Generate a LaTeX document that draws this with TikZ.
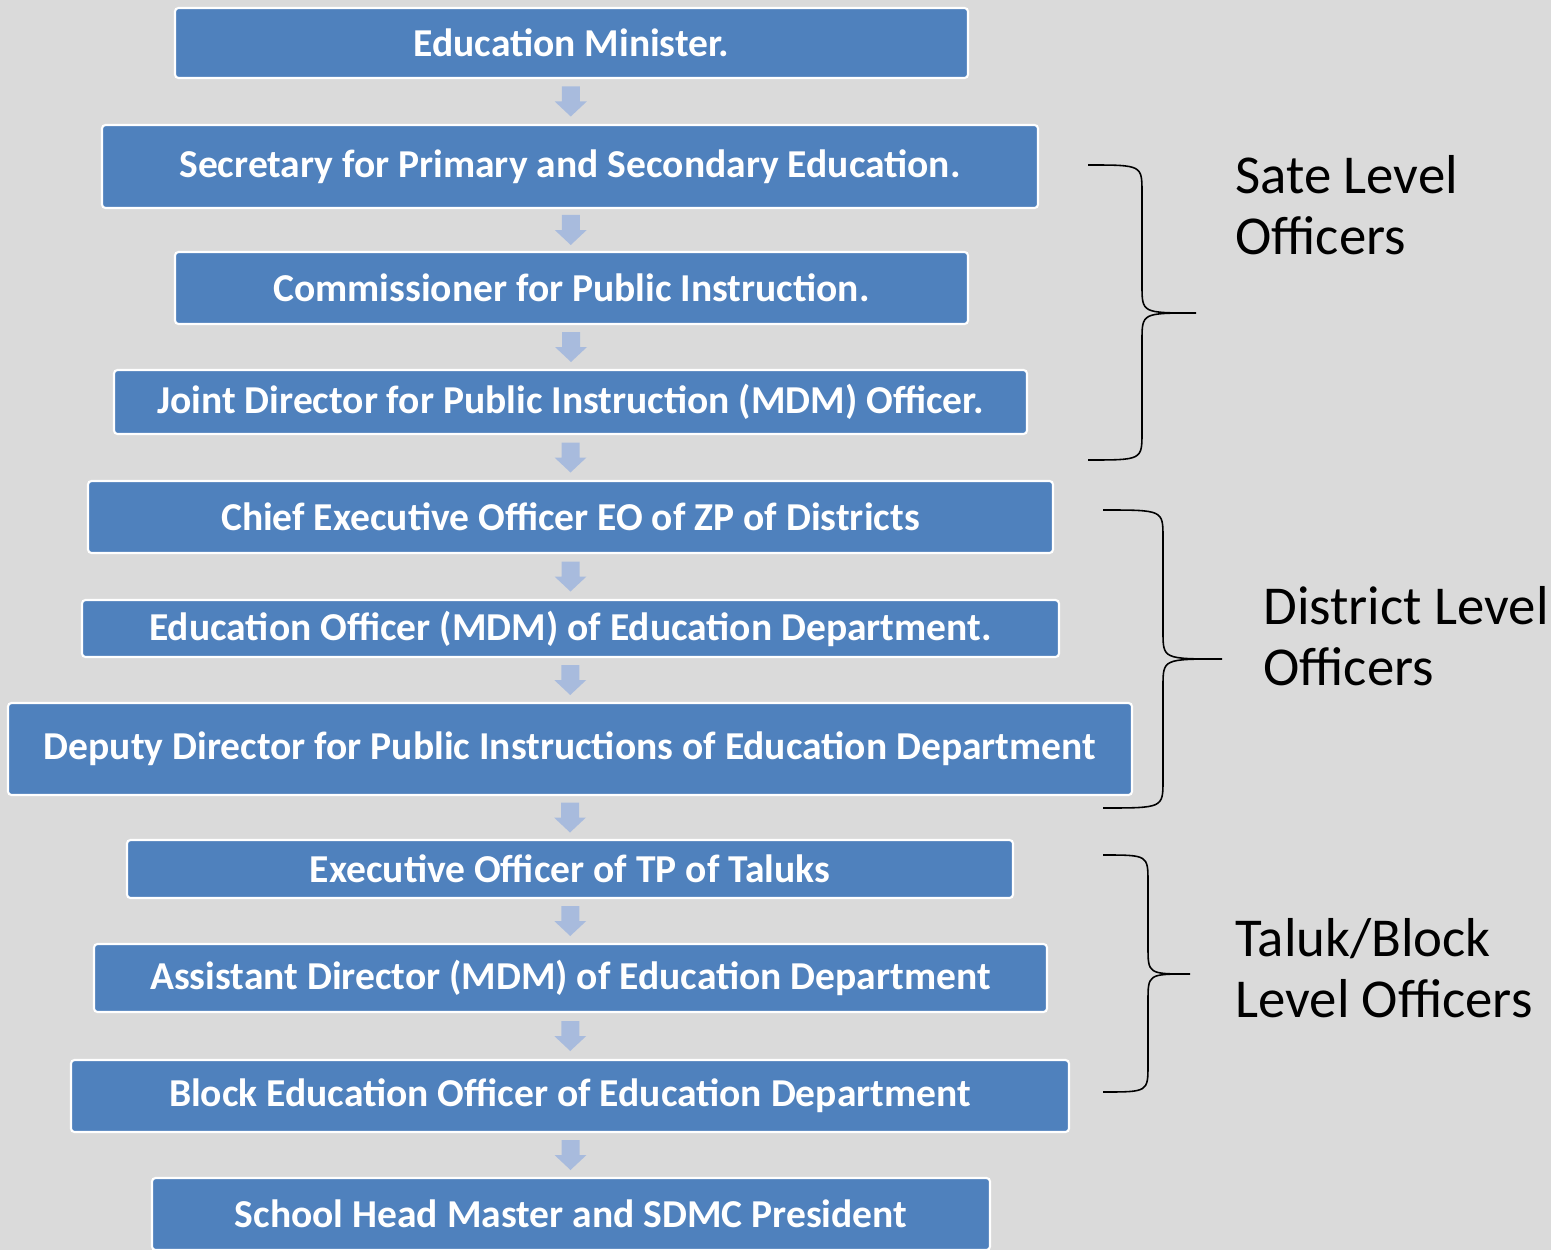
\documentclass[tikz,border=0pt]{standalone}
\usepackage{fontspec}
\setmainfont{Carlito}
\usetikzlibrary{calc}
\definecolor{boxblue}{RGB}{79,129,189}
\definecolor{arrowblue}{RGB}{160,182,222}
\definecolor{bggray}{RGB}{218,218,218}
\begin{document}
\begin{tikzpicture}[
        box/.style={draw=white,line width=1.2pt,fill=boxblue,rounded corners=2pt,
            text=white,font=\bfseries\fontsize{22.5}{26}\selectfont,inner sep=0pt},
        level/.style={anchor=west,align=left,inner sep=0pt,font=\fontsize{31.2}{35}\selectfont}]
        % the background and the size of the page
        \fill[bggray] (0,0) rectangle (31.02,-25);
        \useasboundingbox (0,0) rectangle (31.02,-25);

        % draw the boxes
        \foreach \n/\x/\y/\w/\h/\t in {
            minister/11.43/-0.86/15.86/1.40/Education Minister.,
            secretary/11.40/-3.33/18.72/1.66/Secretary for Primary and Secondary Education.,
            commissioner/11.43/-5.76/15.86/1.44/Commissioner  for Public  Instruction.,
            jointdir/11.41/-8.04/18.26/1.28/Joint Director for Public  Instruction (MDM) Officer.,
            ceo/11.41/-10.34/19.30/1.44/Chief Executive Officer EO of ZP of Districts,
            eduofficer/11.41/-12.57/19.54/1.14/Education Officer (MDM) of Education  Department.,
            deputydir/11.40/-14.98/22.48/1.84/Deputy Director for Public  Instructions  of Education  Department,
            execofficer/11.40/-17.38/17.72/1.16/Executive Officer of TP of Taluks,
            assistdir/11.41/-19.56/19.06/1.36/Assistant  Director (MDM) of Education  Department,
            blockofficer/11.40/-21.92/19.96/1.44/Block Education  Officer of  Education  Department,
            headmaster/11.42/-24.28/16.76/1.44/School Head Master and  SDMC President}
                \node[box,minimum width=\w cm,minimum height=\h cm] (\n) at (\x,\y) {\t};

        % small arrows between the boxes
        \foreach \a/\b in {minister/secretary, secretary/commissioner,
            commissioner/jointdir, jointdir/ceo, ceo/eduofficer,
            eduofficer/deputydir, deputydir/execofficer, execofficer/assistdir,
            assistdir/blockofficer, blockofficer/headmaster}
                \fill[arrowblue,opacity=0.85] ($(\a.south)!0.5!(\b.north)$)
                    ++(-0.18,0.3) -- ++(0.36,0) -- ++(0,-0.3) -- ++(0.14,0)
                    -- ++(-0.32,-0.3) -- ++(-0.32,0.3) -- ++(0.14,0) -- cycle;

        % draw the braces
        \foreach \x/\yt/\xv/\xt/\ym/\yb in {
            21.76/-3.30/22.84/23.92/-6.26/-9.20,
            22.06/-10.20/23.26/24.44/-13.18/-16.16,
            22.06/-17.10/22.96/23.80/-19.48/-21.84}
                \draw[line width=0.9pt] (\x,\yt) .. controls (\xv,\yt) .. (\xv,\yt-0.55)
                    -- (\xv,\ym+0.55) .. controls (\xv,\ym) .. (\xt,\ym)
                    .. controls (\xv,\ym) .. (\xv,\ym-0.55)
                    -- (\xv,\yb+0.55) .. controls (\xv,\yb) .. (\x,\yb);

        % the level labels
        \node[level] (statelevel) at (24.70,-4.10) {Sate Level\\Officers};
        \node[level] (districtlevel) at (25.26,-12.72) {District Level\\Officers};
        \node[level] (taluklevel) at (24.70,-19.36) {Taluk/Block\\Level Officers};
\end{tikzpicture}
\end{document}
